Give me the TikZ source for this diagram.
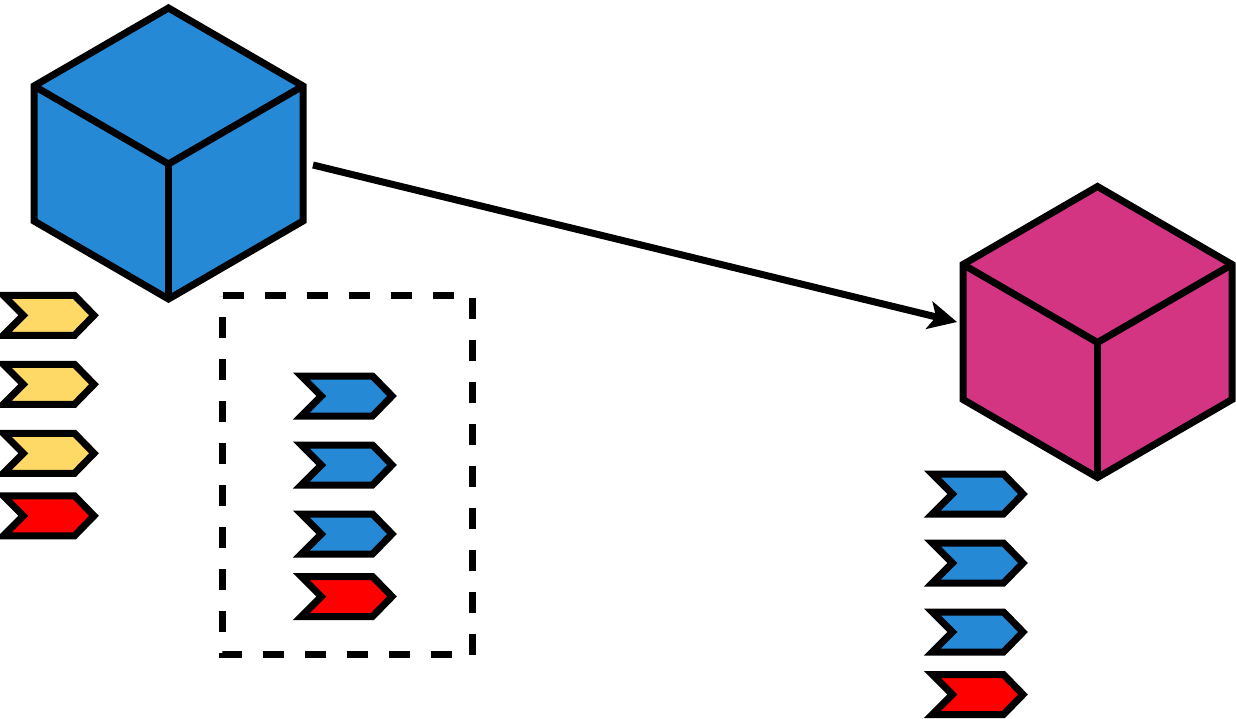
\documentclass[tikz,border=0pt]{standalone}
\usetikzlibrary{arrows.meta}
\definecolor{cubeblue}{HTML}{2589D6}
\definecolor{cubepink}{HTML}{D43583}
\definecolor{tagyellow}{HTML}{FFD966}
\tikzset{
  outline/.style={draw=black, line width=7pt},
  pics/cube/.style={code={
      \draw[outline, fill=#1] (0,-156) -- (134.5,-78) -- (134.5,57) -- (0,135)
        -- (-134.5,57) -- (-134.5,-78) -- cycle;
      \draw[outline] (-134.5,-78) -- (0,0) -- (134.5,-78); % top face
      \draw[outline] (0,0) -- (0,135);
  }},
  pics/tag/.style={code={
      \draw[outline, fill=#1] (-45.7,-20) -- (25.5,-20) -- (45,0) -- (25.5,20)
        -- (-45.7,20) -- (-25.7,0) -- cycle;
  }},
}
\begin{document}
\begin{tikzpicture}[x=1pt, y=-1pt]
      \useasboundingbox (0,0) rectangle (1236,718);
      %
      \pic (srccube) at (168.5,164) {cube=cubeblue};
      \pic (dstcube) at (1097.5,342.5) {cube=cubepink};
      %
      \pic (srctaga) at (49,315.3) {tag=tagyellow};     % under first cube
      \pic (srctagb) at (49,384.3) {tag=tagyellow};
      \pic (srctagc) at (49,453.3) {tag=tagyellow};
      \pic (srctagd) at (49,515.8) {tag=red};
      %
      \draw[outline, dash pattern=on 21pt off 21pt] (222.5,295.5) -- (472.5,295.5)
        -- (472.5,654.5) -- (222.5,654.5) -- cycle;
      \pic (boxtaga) at (347,396) {tag=cubeblue};     % dashed box
      \pic (boxtagb) at (347,465) {tag=cubeblue};
      \pic (boxtagc) at (347,534) {tag=cubeblue};
      \pic (boxtagd) at (347,596.5) {tag=red};
      %
      \pic (dsttaga) at (978,494) {tag=cubeblue};     % under second cube
      \pic (dsttagb) at (978,563) {tag=cubeblue};
      \pic (dsttagc) at (978,632) {tag=cubeblue};
      \pic (dsttagd) at (978,694.5) {tag=red};
      %
      \coordinate (srcend) at (313,165);
      \coordinate (dstend) at (957,322);
      \draw[line width=7pt, -{Stealth[length=28.5pt, width=28pt, inset=7pt]}] (srcend) -- (dstend);
      %
    \end{tikzpicture}
\end{document}
